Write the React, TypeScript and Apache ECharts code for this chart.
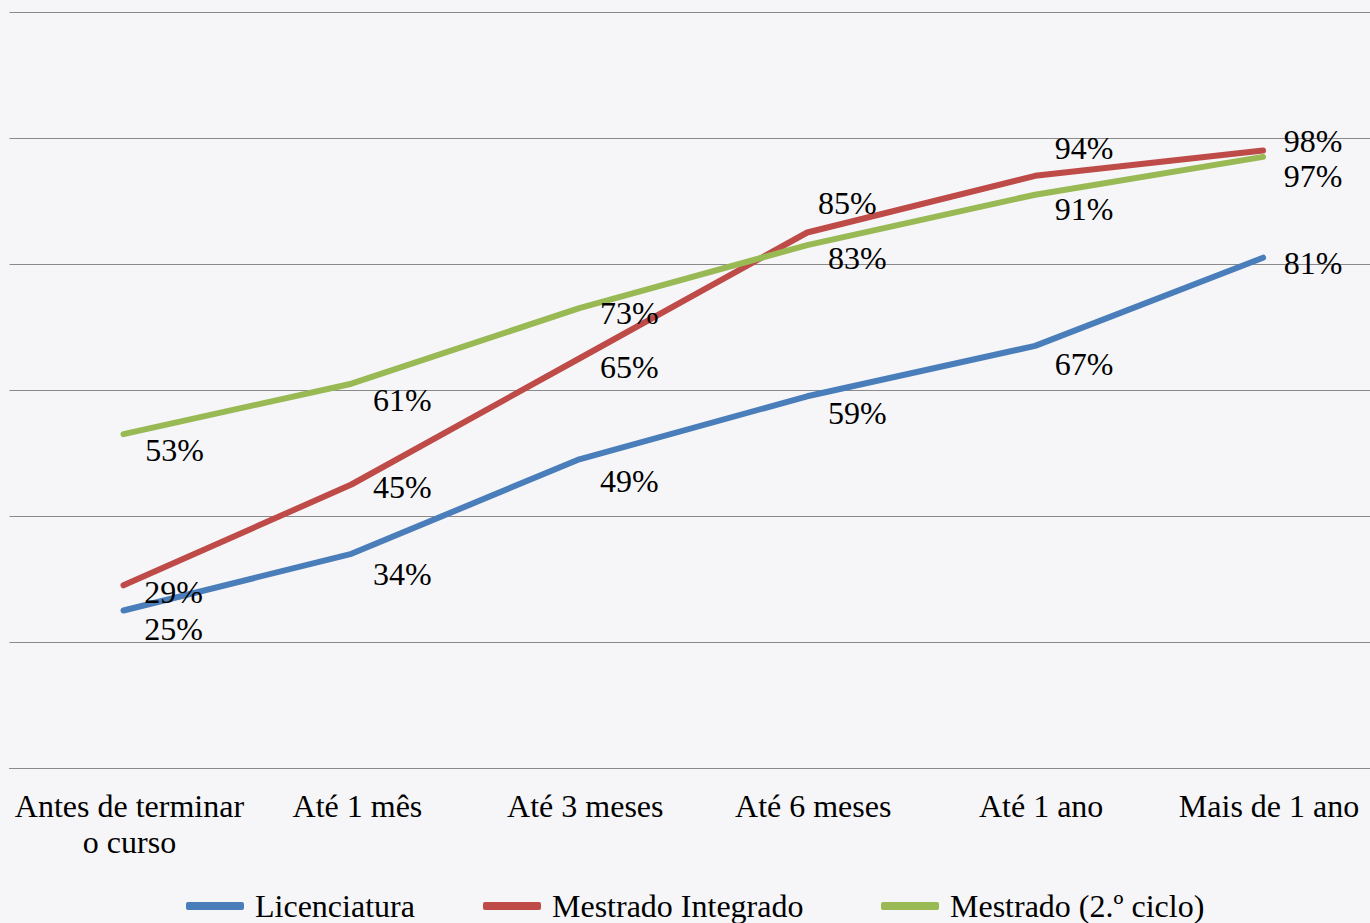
import React, { useEffect, useRef } from "react";
import * as echarts from "echarts";

const categories = ["Antes de terminar\no curso", "Até 1 mês", "Até 3 meses", "Até 6 meses", "Até 1 ano", "Mais de 1 ano"];
const seriesNames = ["Licenciatura", "Mestrado Integrado", "Mestrado (2.º ciclo)"];
const licenciatura = [25, 34, 49, 59, 67, 81];
const mestradoIntegrado = [29, 45, 65, 85, 94, 98];
const mestrado2ciclo = [53, 61, 73, 83, 91, 97];

// label offsets (styling only)
const offsetsBlue = [[50, 18], [51, 20], [50, 22], [50, 17], [49, 18], [50, 5]];
const offsetsRed = [[50, 7], [51, 2], [50, 8], [40, -30], [49, -28], [50, -10]];
const offsetsGreen = [[51, 16], [51, 16], [50, 5], [50, 13], [49, 14], [50, 19]];
const legendLefts = [186, 483, 881];

const colors = ["#4A7EBB", "#BE4B48", "#98B954"];
const FONT = "'Liberation Serif', 'Times New Roman', serif";
const FS = 32;

function makeSeries(name: string, values: number[], offsets: number[][], color: string) {
  return {
    name,
    type: "line",
    data: values.map((v, i) => ({
      value: v,
      label: { offset: offsets[i] },
    })),
    symbol: "circle",
    symbolSize: 2,
    showSymbol: true,
    itemStyle: { color },
    lineStyle: { color, width: 6, cap: "round", join: "round" },
    label: {
      show: true,
      position: "inside",
      align: "center",
      verticalAlign: "middle",
      formatter: (p: any) => p.value + "%",
      fontFamily: FONT,
      fontSize: FS,
      color: "#000",
    },
    emphasis: { disabled: true },
  };
}

export default function App() {
  const ref = useRef<HTMLDivElement>(null);
  useEffect(() => {
    if (!ref.current) return;
    const chart = echarts.init(ref.current, undefined, { renderer: "svg" });
    chart.setOption({
      animation: false,
      backgroundColor: "#F6F6F8",
      textStyle: { fontFamily: FONT },
      grid: { left: 8, top: 12, width: 1369, height: 756, containLabel: false },
      legend: seriesNames.map((n, i) => ({
        left: legendLefts[i],
        top: 890,
        padding: 0,
        icon: "roundRect",
        itemWidth: 58,
        itemHeight: 8,
        textStyle: { fontFamily: FONT, fontSize: FS, lineHeight: 32, color: "#000", padding: [0, 0, 0, 6] },
        data: [n],
      })),
      xAxis: {
        type: "category",
        data: categories,
        boundaryGap: true,
        axisLine: { show: true, lineStyle: { color: "#8A8A8A", width: 1 } },
        axisTick: { show: false },
        axisLabel: {
          fontFamily: FONT,
          fontSize: FS,
          lineHeight: 36,
          color: "#000",
          margin: 20,
          interval: 0,
          padding: [0, 0, 0, 12],
        },
      },
      yAxis: {
        type: "value",
        min: 0,
        max: 120,
        interval: 20,
        axisLabel: { show: false },
        axisLine: { show: false },
        axisTick: { show: false },
        splitLine: { show: true, lineStyle: { color: "#8A8A8A", width: 1 } },
      },
      series: [
        makeSeries(seriesNames[0], licenciatura, offsetsBlue, colors[0]),
        makeSeries(seriesNames[1], mestradoIntegrado, offsetsRed, colors[1]),
        makeSeries(seriesNames[2], mestrado2ciclo, offsetsGreen, colors[2]),
      ],
    });
    return () => chart.dispose();
  }, []);
  return (
    <div style={{ position: "fixed", left: 0, top: 0, width: 1370, height: 923, overflow: "hidden", background: "#F6F6F8" }}>
      <div ref={ref} style={{ width: 1380, height: 923 }} />
    </div>
  );
}
